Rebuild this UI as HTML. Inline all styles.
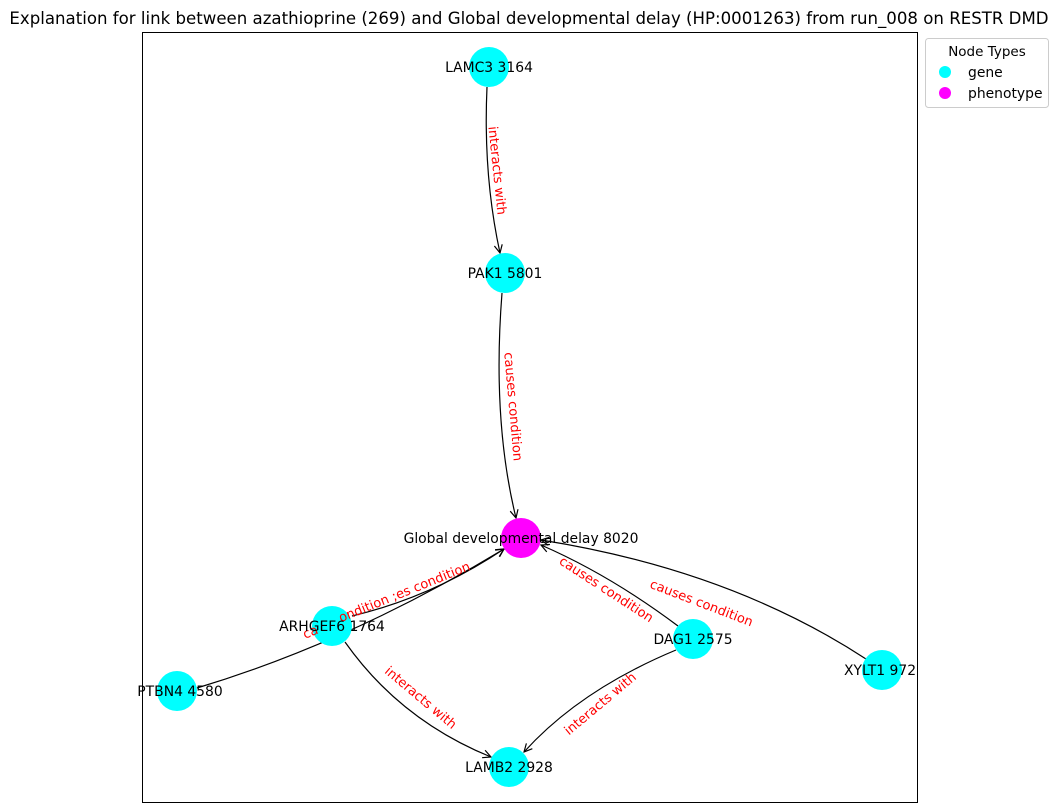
<!DOCTYPE html>
<html><head><style>body{margin:0;background:#fff}svg{display:block}</style></head><body>
<svg width="1059" height="812" viewBox="0 0 1059 812" xmlns="http://www.w3.org/2000/svg" font-family="DejaVu Sans, Liberation Sans, sans-serif">
<defs><marker id="a" markerWidth="10" markerHeight="10" refX="9" refY="5" orient="auto" markerUnits="userSpaceOnUse"><path d="M1,1 L9,5 L1,9" fill="none" stroke="#000" stroke-width="1.2"/></marker></defs>
<text x="529" y="24" text-anchor="middle" font-size="16.6">Explanation for link between azathioprine (269) and Global developmental delay (HP:0001263) from run_008 on RESTR DMD</text>
<rect x="142.5" y="32.5" width="775" height="770" fill="none" stroke="#000" stroke-width="1"/>
<g fill="none" stroke="#000" stroke-width="1.2" marker-end="url(#a)">
<path d="M487,87 Q483,175 500,253"/>
<path d="M502,293 Q492,420 516,518"/>
<path d="M352,616 Q432,597 504,549"/>
<path d="M197,688 Q350,642 504,549"/>
<path d="M678,626 Q610,575 541,545"/>
<path d="M866,659 Q730,570 541,540"/>
<path d="M345,642 Q400,720 491,757"/>
<path d="M676,650 Q580,690 524,752"/>
</g>
<g fill="#00ffff">
<circle cx="489" cy="67" r="20"/><circle cx="505" cy="273" r="20"/>
<circle cx="332" cy="626" r="20"/><circle cx="177" cy="691" r="20"/>
<circle cx="693" cy="639" r="20"/><circle cx="882" cy="670" r="20"/>
<circle cx="509" cy="767" r="20"/>
</g>
<circle cx="521" cy="538" r="20" fill="#ff00ff"/>
<g font-size="13" fill="#ff0000" text-anchor="middle">
<text transform="translate(493,171) rotate(84)">interacts with</text>
<text transform="translate(509,407) rotate(85)">causes condition</text>
<text transform="translate(312,636) rotate(-22)">ca</text>
<text transform="translate(406,596) rotate(-22)">ondition ;es condition</text>
<text transform="translate(604,593) rotate(33)">causes condition</text>
<text transform="translate(700,607) rotate(21)">causes condition</text>
<text transform="translate(418,701) rotate(40)">interacts with</text>
<text transform="translate(603,707) rotate(-40)">interacts with</text>
</g>
<g font-size="13.9" fill="#000" text-anchor="middle">
<text x="489" y="72">LAMC3 3164</text>
<text x="505" y="278">PAK1 5801</text>
<text x="521" y="543">Global developmental delay 8020</text>
<text x="332" y="631">ARHGEF6 1764</text>
<text x="180" y="696">PTBN4 4580</text>
<text x="693" y="644">DAG1 2575</text>
<text x="880" y="675">XYLT1 972</text>
<text x="509" y="772">LAMB2 2928</text>
</g>
<rect x="925.5" y="38.5" width="123" height="69" rx="3" fill="#fff" stroke="#ccc"/>
<text x="987" y="56" text-anchor="middle" font-size="13.5">Node Types</text>
<circle cx="945" cy="72" r="6" fill="#00ffff"/><text x="968" y="77" font-size="13.9">gene</text>
<circle cx="945" cy="93" r="6" fill="#ff00ff"/><text x="968" y="98" font-size="13.9">phenotype</text>
</svg>
</body></html>
